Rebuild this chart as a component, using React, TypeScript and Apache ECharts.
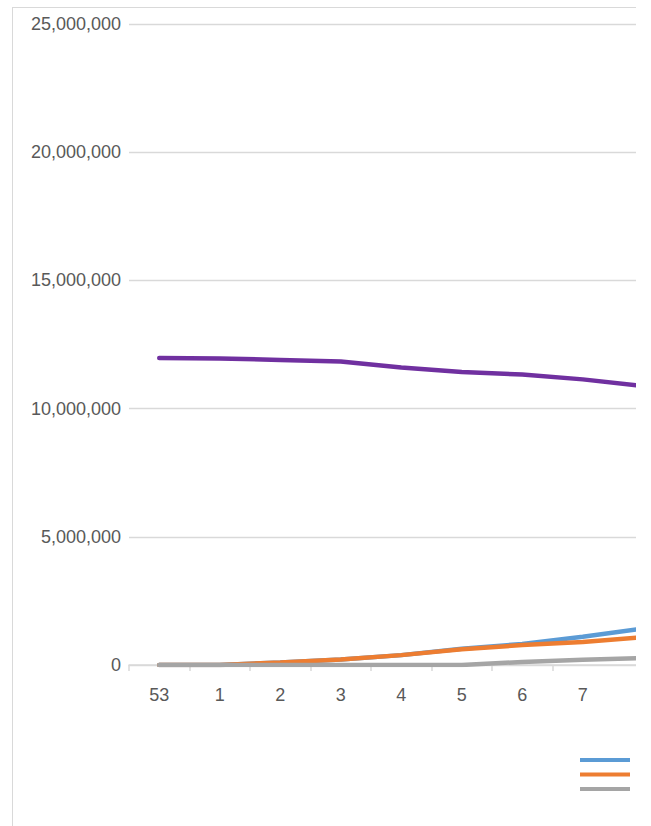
import React, { useEffect, useRef } from "react";
import * as echarts from "echarts";

const weeks = ["53", "1", "2", "3", "4", "5", "6", "7", "8"];
const seriesNames = ["Series A", "Series B", "Series C", "Series D"];
const blueValues = [0, 0, 100000, 210000, 385000, 630000, 820000, 1100000, 1420000];
const orangeValues = [0, 0, 100000, 210000, 385000, 610000, 780000, 900000, 1090000];
const grayValues = [0, 0, 0, 0, 0, 0, 120000, 200000, 270000];
const purpleValues = [11970000, 11950000, 11900000, 11840000, 11600000, 11430000, 11330000, 11140000, 10880000];
const yTicks = [0, 5000000, 10000000, 15000000, 20000000, 25000000];

const colors = ["#5b9bd5", "#ed7d31", "#a5a5a5", "#7030a0"];

export default function App() {
  const ref = useRef<HTMLDivElement>(null);
  useEffect(() => {
    if (!ref.current) return;
    const chart = echarts.init(ref.current, undefined, { renderer: "svg" });
    const font = "'Liberation Sans', Arial, sans-serif";
    const data = [blueValues, orangeValues, grayValues, purpleValues];
    const lastIdx = weeks.length - 1;
    chart.setOption({
      animation: false,
      textStyle: { fontFamily: font },
      grid: { left: 116, right: 39.5, top: 16, bottom: 161, containLabel: false },
      legend: {
        orient: "vertical",
        left: 567,
        top: 750,
        height: 40,
        padding: 0,
        itemWidth: 50,
        itemHeight: 4,
        itemGap: 10.5,
        icon: "rect",
        formatter: () => "",
        textStyle: { fontSize: 12, color: "#595959", fontFamily: font },
        data: seriesNames,
      },
      xAxis: {
        type: "category",
        data: weeks,
        boundaryGap: true,
        axisLine: { show: true, lineStyle: { color: "#d9d9d9", width: 1.5 } },
        axisTick: { show: true, alignWithLabel: false, length: 6, lineStyle: { color: "#d9d9d9", width: 1.5 } },
        axisLabel: {
          color: "#595959",
          fontSize: 18,
          margin: 21,
          fontFamily: font,
          interval: (idx: number) => idx < lastIdx,
        },
        splitLine: { show: false },
      },
      yAxis: {
        type: "value",
        min: yTicks[0],
        max: yTicks[yTicks.length - 1],
        interval: yTicks[1] - yTicks[0],
        axisLine: { show: false },
        axisTick: { show: false },
        axisLabel: {
          color: "#595959",
          fontSize: 18,
          margin: 8,
          fontFamily: font,
          formatter: (v: number) => v.toLocaleString("en-US"),
        },
        splitLine: { show: true, lineStyle: { color: "#d9d9d9", width: 1.3 } },
      },
      series: seriesNames.map((name, i) => ({
        name,
        type: "line",
        data: data[i],
        symbol: "none",
        smooth: false,
        lineStyle: { color: colors[i], width: 4.5, cap: "round" },
        itemStyle: { color: colors[i] },
        z: i === 3 ? 3 : 2,
      })),
    });
    return () => chart.dispose();
  }, []);
  return (
    <div
      style={{
        position: "absolute",
        left: 12,
        top: 7,
        width: 623,
        height: 819,
        overflow: "hidden",
        borderLeft: "1px solid #d9d9d9",
        borderTop: "1px solid #d9d9d9",
        background: "#fff",
      }}
    >
      <div ref={ref} style={{ width: 700, height: 818 }} />
    </div>
  );
}
